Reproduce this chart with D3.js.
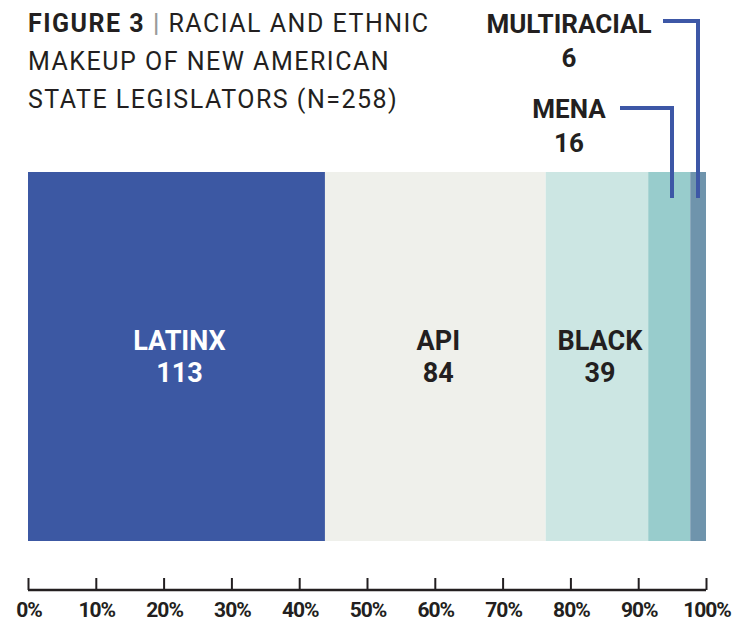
<!DOCTYPE html>
<html><head><meta charset="utf-8">
<script src="https://cdn.jsdelivr.net/npm/d3@7"></script>
<style>body{margin:0;background:#fff}svg{display:block}</style>
</head><body>
<svg id="c" width="752" height="624"></svg>
<script>
const categories = ["LATINX","API","BLACK","MENA","MULTIRACIAL"];
const values = [113,84,39,16,6];
const colors = ["#3c58a3","#eff0eb","#cce6e3","#98cccc","#6f94ac"];
const labelColors = ["#ffffff","#231f20","#231f20","#231f20","#231f20"];
const tickValues = [0,0.1,0.2,0.3,0.4,0.5,0.6,0.7,0.8,0.9,1.0];
const titleLines = [["FIGURE 3","|"," RACIAL AND ETHNIC"],["MAKEUP OF NEW AMERICAN"],["STATE LEGISLATORS (N=258)"]];

const total = d3.sum(values);
let cum = 0;
const data = categories.map((c,i)=>{const d={cat:c,val:values[i],x0:cum/total,x1:(cum+values[i])/total,color:colors[i],lc:labelColors[i]};cum+=values[i];return d;});

const svg = d3.select("#c");
const font = "Roboto, 'Liberation Sans', sans-serif";
const x = d3.scaleLinear().domain([0,1]).range([28,706]);
const barTop = 172, barBot = 541;

svg.selectAll("rect.seg").data(data).join("rect").attr("class","seg")
  .attr("x",d=>x(d.x0)).attr("width",d=>x(d.x1)-x(d.x0))
  .attr("y",barTop).attr("height",barBot-barTop).attr("fill",d=>d.color);

const big = data.slice(0,3);
const cx = d=>(x(d.x0)+x(d.x1))/2+3;
const lab = svg.selectAll("text.lab").data(big).join("text").attr("class","lab")
  .attr("text-anchor","middle")
  .attr("fill",d=>d.lc).style("font-family",font).style("font-weight","700").style("font-size","27px");
lab.append("tspan").attr("y",350).attr("x",cx).text(d=>d.cat);
lab.append("tspan").attr("y",382).attr("x",cx).text(d=>d.val);

const callouts = [
  {d:data[3], ly:108, lx:620, ty:118},
  {d:data[4], ly:21, lx:663, ty:33}
];
const lineX = [672, 698];
callouts.forEach((c,i)=>{
  const vx = lineX[i];
  svg.append("path").attr("d",`M${c.lx},${c.ly}H${vx}V${barTop+26}`)
    .attr("fill","none").attr("stroke","#3d57a6").attr("stroke-width",4);
  const t = svg.append("text").attr("text-anchor","middle").attr("fill","#231f20")
    .style("font-family",font).style("font-weight","700").style("font-size","26px");
  t.append("tspan").attr("x",569).attr("y",c.ty).text(c.d.cat);
  t.append("tspan").attr("x",569).attr("y",c.ty+34).text(c.d.val);
});

const tt = svg.append("text").attr("fill","#231f20").style("font-family",font).style("font-size","25px").style("letter-spacing","1.5px");
titleLines.forEach((ln,i)=>{
  if(i===0){
    tt.append("tspan").attr("x",28).attr("y",32).style("font-weight","700").text(ln[0]+" ");
    tt.append("tspan").attr("fill","#9a9a9a").style("font-weight","700").text(ln[1]);
    tt.append("tspan").text(ln[2]);
  } else {
    tt.append("tspan").attr("x",28).attr("y",32+i*38).text(ln[0]);
  }
});

const ax = svg.append("g").attr("transform","translate(0,590)")
  .call(d3.axisTop(x).tickValues(tickValues).tickSize(12).tickFormat(""));
ax.select(".domain").attr("d",`M${x(0)},0H${x(1)}`).attr("stroke","#231f20").attr("stroke-width",2.5);
ax.selectAll(".tick line").attr("stroke","#231f20").attr("stroke-width",2);
svg.selectAll("text.tl").data(tickValues).join("text").attr("class","tl")
  .attr("x",d=>x(d)+1).attr("y",617).attr("text-anchor","middle").attr("fill","#231f20")
  .style("font-family",font).style("font-weight","700").style("font-size","21px").style("letter-spacing","-1px")
  .text(d3.format(".0%"));
</script>
</body></html>
